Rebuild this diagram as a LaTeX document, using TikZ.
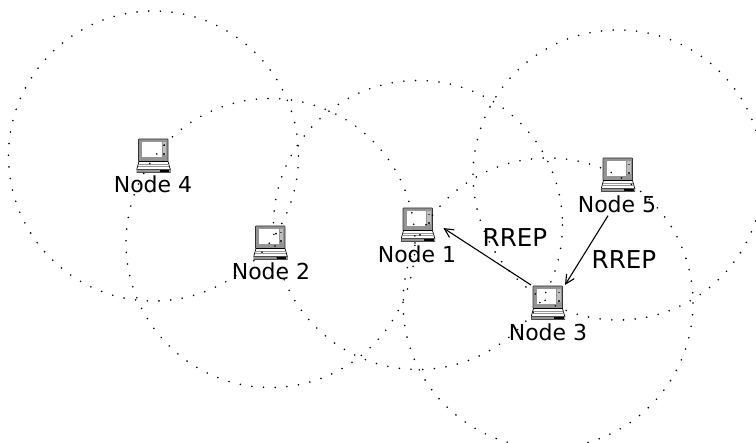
\documentclass[tikz,border=0pt]{standalone}
\usepackage{fontspec}
\setmainfont{DejaVu Sans}
\usetikzlibrary{arrows.meta,calc}
\definecolor{lapgray}{gray}{0.58}
\definecolor{lapmid}{gray}{0.75}
\tikzset{
  x=1pt,y=-1pt,
  laptop/.style={minimum width=34pt,minimum height=36pt,inner sep=0pt,outer sep=0pt,
    path picture={
      \fill[lapgray,draw=black!80,line width=0.6pt,rounded corners=0.6pt] (-15,-17) rectangle (14.5,5.5);
      \fill[white] (-11.5,-13.5) rectangle (8,1);
      \fill[lapmid] (9,-13.5) rectangle (12.5,-1);
      \fill[black!70] (9.8,-11) rectangle (11.6,-9.5);
      \fill[black!80] (9.8,-3) rectangle (11.6,-1);
      \fill[white,draw=black,line width=0.7pt,line join=round] (-14.5,5.5) -- (14.5,5.5) -- (16.8,13.5) -- (-16.8,13.5) -- cycle;
      \draw[lapgray,line width=0.7pt] (-15,8) -- (15,8);
      \draw[lapgray,line width=0.7pt] (-15.5,10.5) -- (15.5,10.5);
      \fill[lapgray,draw=black!70,line width=0.5pt] (-16.8,13.5) rectangle (16.8,16.5);
      \fill[black] (6,14) rectangle (15.5,16.5);
    }},
  nodelabel/.style={font=\fontsize{22pt}{24pt}\selectfont,inner sep=0pt},
  msg/.style={font=\fontsize{24.6pt}{28pt}\selectfont,inner sep=0pt},
  radiorange/.style={draw=black,line width=1.8pt,line cap=round,dash pattern=on 0pt off 11.7pt},
  link/.style={draw=black,line width=1.1pt,-{Straight Barb[length=9pt,width=9pt,line width=1.1pt]}}
}
\begin{document}
\begin{tikzpicture}
\useasboundingbox (0,0) rectangle (756,443);
\node[laptop] (n1) at (418,225) {};
\node[laptop] (n2) at (270.5,243) {};
\node[laptop] (n3) at (548,303) {};
\node[laptop] (n4) at (153.5,156) {};
\node[laptop] (n5) at (618,175) {};
\node[nodelabel] (l1) at (417,254) {Node 1};
\node[nodelabel] (l2) at (271,271) {Node 2};
\node[nodelabel] (l3) at (548,332) {Node 3};
\node[nodelabel] (l4) at (153,184) {Node 4};
\node[nodelabel] (l5) at (617,204) {Node 5};
\node[msg] (r1) at (515,238) {RREP};
\node[msg] (r2) at (624,260) {RREP};
\draw[link,shorten >=10pt] (n3.north west) -- (n1.8);
\draw[link] ($(l5.south)+(-9,3)$) -- (n3.north east);
\draw[radiorange] (n1) circle (144.5);
\draw[radiorange] (n2) circle (144.5);
\draw[radiorange] (n3) circle (145);
\draw[radiorange] (n4) circle (145);
\draw[radiorange] (n5) circle (145);
\end{tikzpicture}
\end{document}
